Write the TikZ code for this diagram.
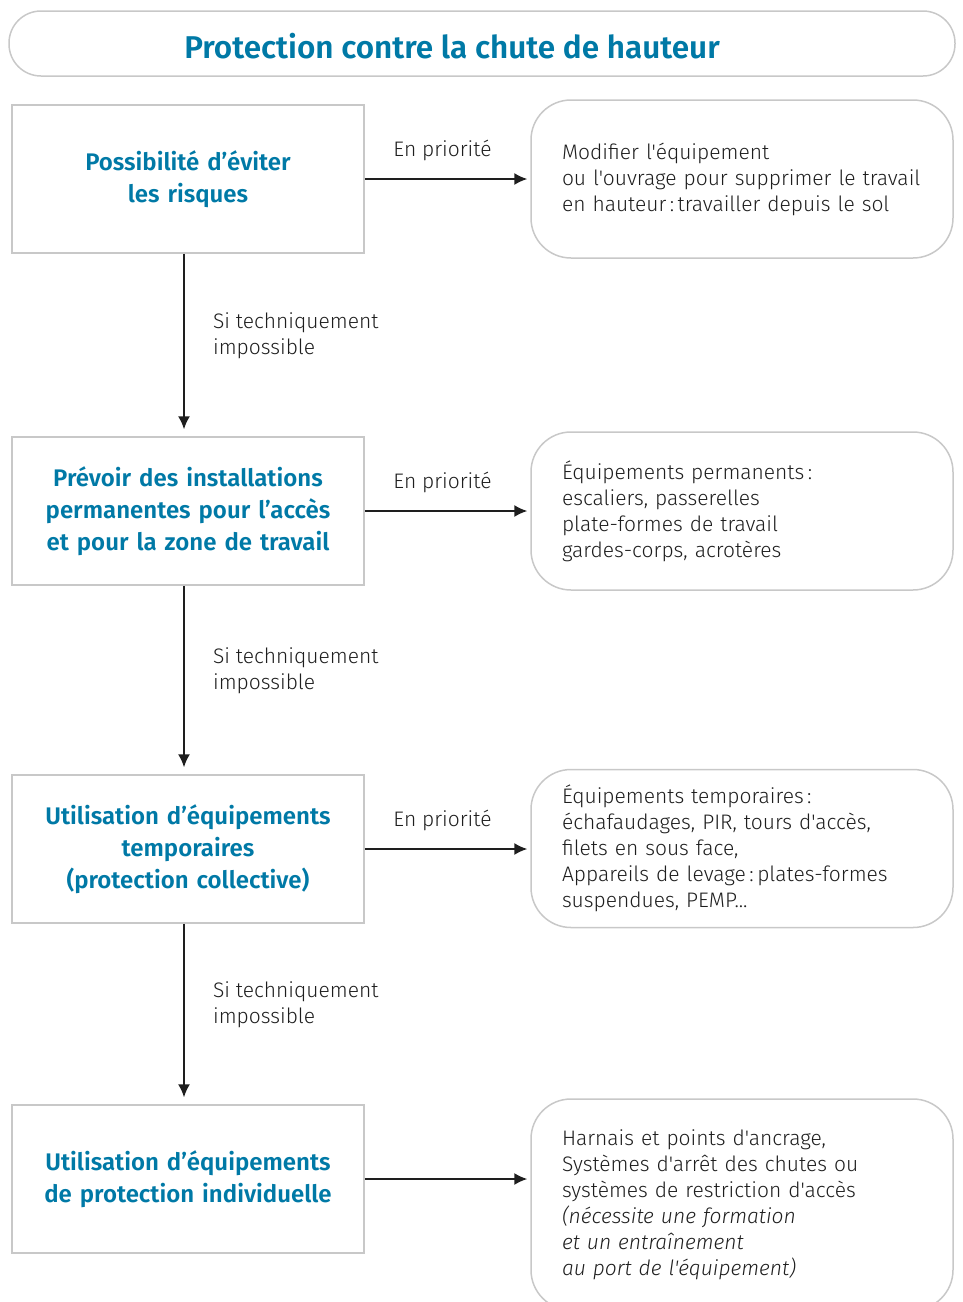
\documentclass[tikz,border=0pt]{standalone}
\usepackage{fontspec}
\usetikzlibrary{arrows.meta}
\newfontfamily\bodyfont{Fira Sans Light}[ItalicFont={Fira Sans Light Italic}]
\newfontfamily\headfont{Fira Sans SemiBold}
\definecolor{inrsblue}{RGB}{0,121,166}
\definecolor{boxgray}{RGB}{200,200,200}
\definecolor{ink}{RGB}{30,30,30}
\tikzset{
  titlebox/.style={draw=boxgray, line width=1.5pt, rounded corners=32pt,
    minimum width=946pt, minimum height=65pt},
  titletext/.style={text=inrsblue, font=\headfont\fontsize{31.5}{36}\selectfont},
  stagebox/.style={draw=boxgray, line width=1.5pt, minimum width=352pt,
    minimum height=148pt, text width=330pt, align=center, text=inrsblue,
    font=\headfont\fontsize{24}{32}\selectfont},
  actionbox/.style={draw=boxgray, line width=1.5pt, rounded corners=40pt,
    minimum width=422pt, minimum height=158pt, text width=360pt,
    inner xsep=31pt, align=left, text=ink,
    font=\bodyfont\fontsize{21}{26}\selectfont},
  note/.style={text=ink, font=\bodyfont\fontsize{21}{26}\selectfont, align=left},
  flow/.style={->, line width=1.5pt, draw=ink}
}
\begin{document}
\begin{tikzpicture}[x=1pt, y=-1pt, >={Latex[length=13pt,width=12pt]}]
    \useasboundingbox (0,0) rectangle (963,1302);
    \clip (0,0) rectangle (963,1302);

    \node[titlebox] (title) at (482,43.5) {};
    \node[titletext] (titlelabel) at (452,46) {Protection contre la chute de hauteur};

    \node[stagebox] (eviter) at (188,179) {Possibilité d’éviter\\les risques};
    \node[stagebox] (permanent) at (188,511) {Prévoir des installations\\permanentes pour l’accès\\et pour la zone de travail};
    \node[stagebox] (collectif) at (188,849) {Utilisation d’équipements\\temporaires\\(protection collective)};
    \node[stagebox] (individuel) at (188,1179) {Utilisation d’équipements\\de protection individuelle};

    \node[actionbox] (supprimer) at (742,179) {Modifier l'équipement\\ou l'ouvrage pour supprimer le travail\\en hauteur\,:\,travailler depuis le sol};
    \node[actionbox] (permequip) at (742,511) {Équipements permanents\,:\\escaliers, passerelles\\plate-formes de travail\\gardes-corps, acrotères};
    \node[actionbox] (tempequip) at (742,848.5) {Équipements temporaires\,:\\échafaudages, PIR, tours d'accès,\\filets en sous face,\\Appareils de levage\,:\,plates-formes\\suspendues, PEMP...};
    \node[actionbox, minimum height=211pt] (epi) at (742,1204.5) {Harnais et points d'ancrage,\\Systèmes d'arrêt des chutes ou\\systèmes de restriction d'accès\\\itshape (nécessite une formation\\\itshape et un entraînement\\\itshape au port de l'équipement)};

    \draw[flow,shorten >=3pt] (eviter.east) -- node[note, above=14pt, xshift=-5pt] {En priorité} (eviter.east -| supprimer.west);
    \draw[flow,shorten >=3pt] (permanent.east) -- node[note, above=14pt, xshift=-5pt] {En priorité} (permanent.east -| permequip.west);
    \draw[flow,shorten >=3pt] (collectif.east) -- node[note, above=14pt, xshift=-5pt] {En priorité} (collectif.east -| tempequip.west);
    \draw[flow,shorten >=3pt] (individuel.east) -- (individuel.east -| epi.west);

    \draw[flow,shorten >=7pt] ([xshift=-4pt]eviter.south) -- node[note, pos=0.45, right=25pt] {Si techniquement\\impossible} ([xshift=-4pt]permanent.north);
    \draw[flow,shorten >=7pt] ([xshift=-4pt]permanent.south) -- node[note, pos=0.45, right=25pt] {Si techniquement\\impossible} ([xshift=-4pt]collectif.north);
    \draw[flow,shorten >=7pt] ([xshift=-4pt]collectif.south) -- node[note, pos=0.45, right=25pt] {Si techniquement\\impossible} ([xshift=-4pt]individuel.north);
\end{tikzpicture}
\end{document}
